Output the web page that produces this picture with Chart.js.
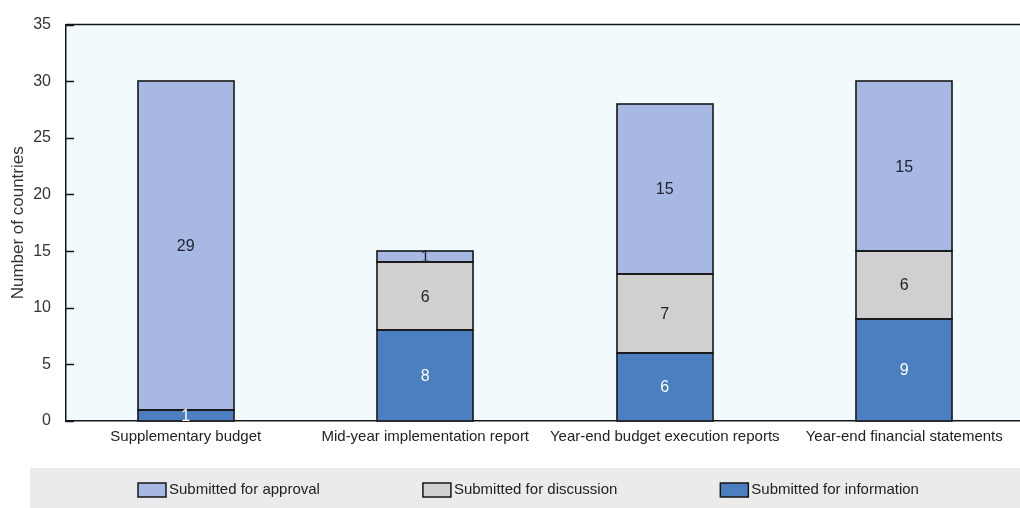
<!DOCTYPE html>
<html>
<head>
<meta charset="utf-8">
<title>Reporting to parliament</title>
<script src="https://cdn.jsdelivr.net/npm/chart.js@4/dist/chart.umd.min.js"></script>
<style>
  html, body { margin: 0; padding: 0; background: #fff; overflow: hidden; }
  canvas { display: block; }
</style>
</head>
<body>
<canvas id="chart-area" width="1024" height="508"></canvas>
<script>
var categories = [
    "Supplementary budget",
    "Mid-year implementation report",
    "Year-end budget execution reports",
    "Year-end financial statements"
];
var forInformation = [1, 8, 6, 9];
var forDiscussion = [0, 6, 7, 6];
var forApproval = [29, 1, 15, 15];
var yTicks = [0, 5, 10, 15, 20, 25, 30, 35];

var FONT = "'Liberation Sans', Arial, sans-serif";
var INK = '#161616';

// light plot background
var plotBackground = {
    id: 'plotBackground',
    beforeDraw: function(chart) {
        var a = chart.chartArea, ctx = chart.ctx;
        ctx.save();
        ctx.fillStyle = '#f1fafd';
        ctx.fillRect(a.left, a.top, a.right - a.left, a.bottom - a.top);
        ctx.restore();
    }
};

// segment outlines, top frame line and short inward ticks on the value axis
var frame = {
    id: 'frame',
    afterDatasetsDraw: function(chart) {
        var a = chart.chartArea, ctx = chart.ctx, y = chart.scales.y;
        ctx.save();
        ctx.strokeStyle = INK;
        ctx.lineWidth = 1.6;
        chart.data.datasets.forEach(function(ds, i) {
            chart.getDatasetMeta(i).data.forEach(function(bar, j) {
                if (!ds.data[j]) return;
                var l = Math.round(bar.x - bar.width / 2);
                var r = Math.round(bar.x + bar.width / 2);
                var t = Math.round(Math.min(bar.y, bar.base));
                var b = Math.round(Math.max(bar.y, bar.base));
                ctx.strokeRect(l, t, r - l, b - t);
            });
        });
        ctx.lineWidth = 1.5;
        ctx.beginPath();
        ctx.moveTo(a.left, a.top);
        ctx.lineTo(a.right, a.top);
        y.ticks.forEach(function(tk) {
            var py = Math.round(y.getPixelForValue(tk.value)) + 0.5;
            ctx.moveTo(a.left, py);
            ctx.lineTo(a.left + 8, py);
        });
        ctx.stroke();
        ctx.restore();
    }
};

// numbers inside each stacked segment
var valueLabels = {
    id: 'valueLabels',
    afterDatasetsDraw: function(chart) {
        var ctx = chart.ctx;
        ctx.save();
        ctx.font = '16px ' + FONT;
        ctx.textAlign = 'center';
        ctx.textBaseline = 'middle';
        chart.data.datasets.forEach(function(ds, i) {
            chart.getDatasetMeta(i).data.forEach(function(bar, j) {
                var v = ds.data[j];
                if (!v) return;
                var p = bar.getCenterPoint();
                ctx.fillStyle = ds.valueColor;
                ctx.fillText(String(v), p.x, p.y + 1);
            });
        });
        ctx.restore();
    }
};

// grey legend band along the bottom
var legendBand = {
    id: 'legendBand',
    afterDraw: function(chart) {
        var ctx = chart.ctx;
        var top = 468, mid = 490;
        ctx.save();
        ctx.fillStyle = '#ebebeb';
        ctx.fillRect(30, top, chart.width - 30, chart.height - top);
        ctx.font = '15px ' + FONT;
        ctx.textBaseline = 'middle';
        var x = 138;
        chart.data.datasets.slice().reverse().forEach(function(ds) {
            ctx.fillStyle = ds.backgroundColor;
            ctx.fillRect(x, mid - 7, 28, 14);
            ctx.strokeStyle = INK;
            ctx.lineWidth = 1.5;
            ctx.strokeRect(x, mid - 7, 28, 14);
            ctx.fillStyle = '#222';
            ctx.fillText(ds.label, x + 31, mid);
            x += 31 + ctx.measureText(ds.label).width + 103;
        });
        ctx.restore();
    }
};

var config = {
    type: 'bar',
    data: {
        labels: categories,
        datasets: [
            {
                label: "Submitted for information",
                data: forInformation,
                backgroundColor: '#4b7fc0',
                valueColor: '#ffffff'
            },
            {
                label: "Submitted for discussion",
                data: forDiscussion,
                backgroundColor: '#d0d0d0',
                valueColor: '#222222'
            },
            {
                label: "Submitted for approval",
                data: forApproval,
                backgroundColor: '#a7b8e2',
                valueColor: '#1e2233'
            }
        ]
    },
    options: {
        responsive: false,
        animation: false,
        layout: { padding: { top: 4, bottom: 57, left: 0, right: 0 } },
        datasets: {
            bar: {
                barPercentage: 0.4,
                categoryPercentage: 1.0,
                borderWidth: 0,
                inflateAmount: 0
            }
        },
        plugins: {
            legend: { display: false },
            tooltip: { enabled: false }
        },
        scales: {
            x: {
                stacked: true,
                grid: { display: false, drawTicks: false },
                border: { display: true, color: INK, width: 1.5 },
                ticks: {
                    color: '#222',
                    font: { family: FONT, size: 15 },
                    padding: 7,
                    maxRotation: 0,
                    autoSkip: false
                },
                afterFit: function(scale) { scale.height = 30; }
            },
            y: {
                stacked: true,
                min: 0,
                max: 35,
                afterBuildTicks: function(scale) {
                    scale.ticks = yTicks.map(function(v) { return { value: v }; });
                },
                grid: { display: false, drawTicks: false },
                border: { display: true, color: INK, width: 1.5 },
                ticks: {
                    color: '#333',
                    font: { family: FONT, size: 16 },
                    padding: 15
                },
                title: {
                    display: true,
                    text: "Number of countries",
                    color: '#333',
                    font: { family: FONT, size: 17 },
                    padding: { top: 8, bottom: 0 }
                },
                afterFit: function(scale) { scale.width = 66; }
            }
        }
    },
    plugins: [plotBackground, frame, valueLabels, legendBand]
};

window.onload = function() {
    var ctx = document.getElementById("chart-area").getContext("2d");
    window.myBar = new Chart(ctx, config);
};
</script>
</body>
</html>
